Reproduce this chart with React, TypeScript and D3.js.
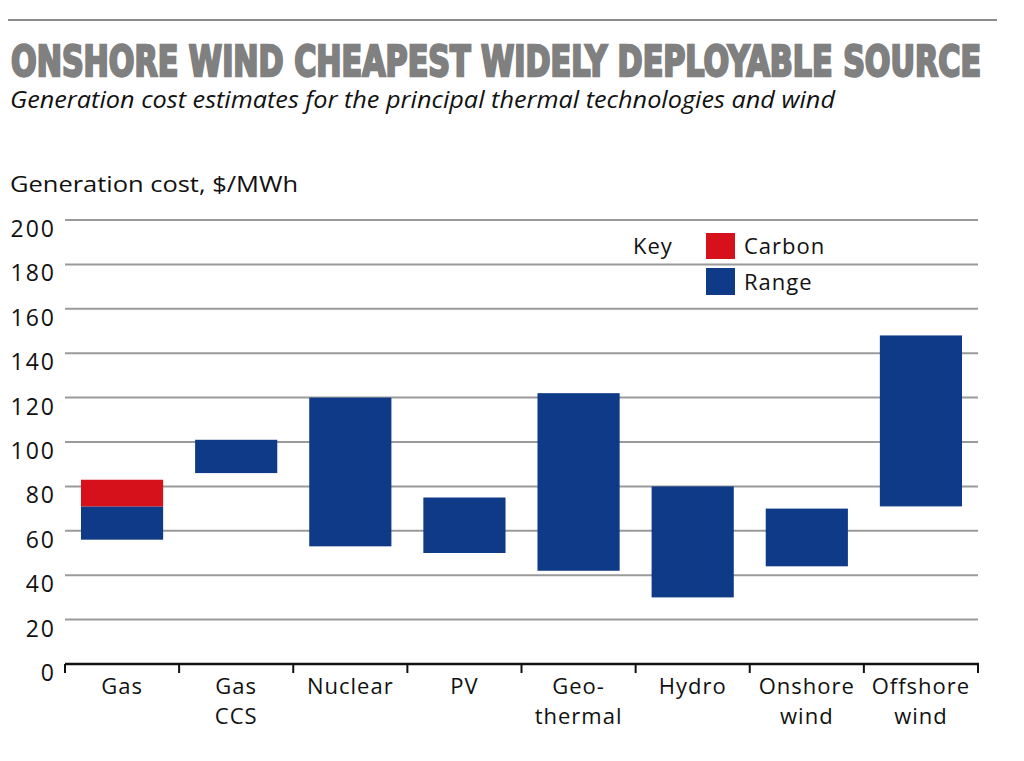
import React from "react";
import * as d3 from "d3";

const categories = ["Gas", "Gas CCS", "Nuclear", "PV", "Geo-thermal", "Hydro", "Onshore wind", "Offshore wind"];
const categoryLines = [["Gas"], ["Gas", "CCS"], ["Nuclear"], ["PV"], ["Geo-", "thermal"], ["Hydro"], ["Onshore", "wind"], ["Offshore", "wind"]];
const rangeLow = [56, 86, 53, 50, 42, 30, 44, 71];
const rangeHigh = [71, 101, 120, 75, 122, 80, 70, 148];
const carbonHigh = [83, null, null, null, null, null, null, null];
const yTicks = [0, 20, 40, 60, 80, 100, 120, 140, 160, 180, 200];

const BLUE = "#0f3a87";
const RED = "#d7111b";
const FONT = "'Open Sans', 'DejaVu Sans', sans-serif";

export default function App() {
  const W = 1024, H = 761;
  const x = d3.scaleBand<string>().domain(categories).range([65, 978]).paddingInner(0.28).paddingOuter(0.14);
  const xOuter = d3.scaleBand<string>().domain(categories).range([65, 978]);
  const y = d3.scaleLinear().domain([0, 200]).range([664, 220]);

  return (
    <svg width={W} height={H} style={{ position: "absolute", left: 0, top: 0, background: "#fff" }}>
      <rect width={W} height={H} fill="#fff" />
      <line x1={8} x2={997} y1={20} y2={20} stroke="#666" strokeWidth={1.5} />
      <g transform="translate(11,76) scale(1,1.2)">
        <text x={0} y={0} fontFamily="'DejaVu Sans Condensed', 'DejaVu Sans', sans-serif" fontWeight={900} fontSize={35}
          fill="#808080" textLength={970} lengthAdjust="spacingAndGlyphs" stroke="#808080" strokeWidth={2}>
          ONSHORE WIND CHEAPEST WIDELY DEPLOYABLE SOURCE
        </text>
      </g>
      <text x={10} y={108} fontFamily={FONT} fontStyle="italic" fontSize={23} fill="#111"
        textLength={825} lengthAdjust="spacingAndGlyphs">
        Generation cost estimates for the principal thermal technologies and wind
      </text>
      <text x={10} y={192} fontFamily={FONT} fontSize={22} fill="#111" textLength={288} lengthAdjust="spacingAndGlyphs">Generation cost, $/MWh</text>

      {yTicks.filter(t => t > 0).map(t => (
        <line key={"g" + t} x1={65} x2={978} y1={y(t)} y2={y(t)} stroke="#9a9a9a" strokeWidth={2} />
      ))}
      {yTicks.map(t => (
        <text key={"t" + t} x={56} y={y(t) + 17} textAnchor="end" fontFamily={FONT} fontSize={23} letterSpacing={2} fill="#111">{t}</text>
      ))}

      {categories.map((c, i) => (
        <g key={c}>
          <rect x={x(c)} width={x.bandwidth()} y={y(rangeHigh[i])} height={y(rangeLow[i]) - y(rangeHigh[i])} fill={BLUE} />
          {carbonHigh[i] != null && (
            <rect x={x(c)} width={x.bandwidth()} y={y(carbonHigh[i] as number)} height={y(rangeHigh[i]) - y(carbonHigh[i] as number)} fill={RED} />
          )}
        </g>
      ))}

      <line x1={65} x2={979} y1={y(0)} y2={y(0)} stroke="#111" strokeWidth={2.5} />
      {d3.range(categories.length + 1).map(i => {
        const xx = i < categories.length ? (xOuter(categories[i]) as number) : 978;
        return <line key={"tk" + i} x1={xx} x2={xx} y1={y(0)} y2={y(0) + 9} stroke="#111" strokeWidth={2} />;
      })}
      {categories.map((c, i) => (
        <text key={"l" + c} x={(xOuter(c) as number) + xOuter.bandwidth() / 2} textAnchor="middle" fontFamily={FONT} fontSize={22} letterSpacing={1} fill="#111">
          {categoryLines[i].map((ln, j) => (
            <tspan key={j} x={(xOuter(c) as number) + xOuter.bandwidth() / 2} y={694 + j * 30}>{ln}</tspan>
          ))}
        </text>
      ))}

      <text x={633} y={254} fontFamily={FONT} fontSize={22} letterSpacing={1} fill="#111">Key</text>
      <rect x={706} y={233} width={29} height={26} fill={RED} />
      <text x={744} y={254} fontFamily={FONT} fontSize={22} letterSpacing={1} fill="#111">Carbon</text>
      <rect x={706} y={268} width={29} height={27} fill={BLUE} />
      <text x={744} y={290} fontFamily={FONT} fontSize={22} letterSpacing={1} fill="#111">Range</text>
    </svg>
  );
}
